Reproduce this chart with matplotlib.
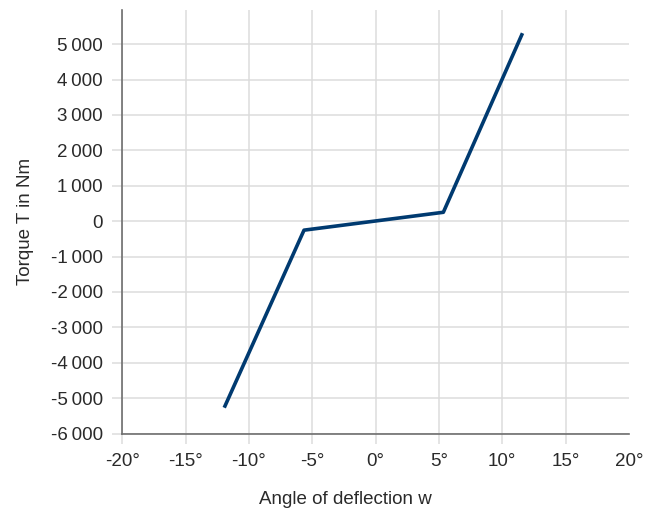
import matplotlib
matplotlib.use("Agg")
import matplotlib.pyplot as plt
import numpy as np

# torque characteristic
angle = [-11.95, -5.65, 5.35, 11.6]
torque = [-5270, -255, 250, 5310]

x_ticks = [-20, -15, -10, -5, 0, 5, 10, 15, 20]
y_ticks = [-6000, -5000, -4000, -3000, -2000, -1000, 0, 1000, 2000, 3000, 4000, 5000]

plt.rcParams['font.family'] = ['Liberation Sans', 'DejaVu Sans']

fig = plt.figure(figsize=(6.47, 5.17), dpi=100)
ax = fig.add_axes([0.189, 0.1615, 0.783, 0.8195])

ax.plot(angle, torque, color='#003a70', lw=2.6, solid_capstyle='butt', zorder=3)

ax.set_xlim(-20, 20)
ax.set_ylim(-6000, 5970)
ax.set_xticks(x_ticks)
ax.set_xticklabels([f"{v}°" for v in x_ticks])
ax.set_yticks(y_ticks)
ax.set_yticklabels([f"{v:,}".replace(",", "\u2009") for v in y_ticks])

ax.grid(True, color='#dcdcdc', lw=1.1)
ax.set_axisbelow(True)
for s in ['top', 'right']:
    ax.spines[s].set_visible(False)
for s in ['left', 'bottom']:
    ax.spines[s].set_color('#6e6e6e')
    ax.spines[s].set_linewidth(1.2)
ax.tick_params(length=7, width=1.1, color='#dcdcdc', pad=7, labelsize=13.5, labelcolor='#2a2a2a')

# no tick / gridline at the right edge (20°)
ax.xaxis.get_major_ticks()[-1].tick1line.set_visible(False)
ax.xaxis.get_major_ticks()[-1].gridline.set_visible(False)

ax.set_xlabel("Angle of deflection w", fontsize=13.5, color='#2a2a2a', labelpad=18)
ax.xaxis.set_label_coords(0.44, -0.135)
ax.set_ylabel("Torque T in Nm", fontsize=13.5, color='#2a2a2a', labelpad=12)

fig.savefig("out.png", dpi=100)
